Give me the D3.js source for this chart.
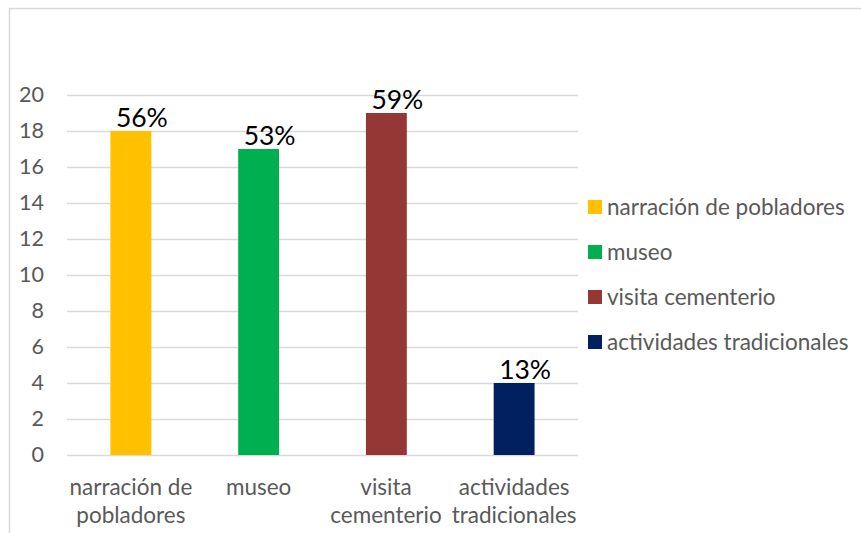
<!DOCTYPE html>
<html>
<head>
<meta charset="utf-8">
<script src="https://cdn.jsdelivr.net/npm/d3@7"></script>
<style>
  html, body { margin: 0; padding: 0; background: #fff; }
  svg { display: block; }
</style>
</head>
<body>
<svg id="chart" width="861" height="533"></svg>
<script>
const categories = ["narración de pobladores", "museo", "visita cementerio", "actividades tradicionales"];
const axisLabels = [["narración de", "pobladores"], ["museo"], ["visita", "cementerio"], ["actividades", "tradicionales"]];
const values = [18, 17, 19, 4];
const percentLabels = ["56%", "53%", "59%", "13%"];
const colors = ["#FFC000", "#00B050", "#953735", "#002060"];
const yTicks = [0, 2, 4, 6, 8, 10, 12, 14, 16, 18, 20];

const FONT = "Lato, 'Open Sans', sans-serif";
const svg = d3.select("#chart");

// chart frame
svg.append("rect")
  .attr("x", 9.5).attr("y", 8.5)
  .attr("width", 900).attr("height", 600)
  .attr("fill", "#fff").attr("stroke", "#d9d9d9").attr("stroke-width", 1.5);

const plot = { left: 67, right: 578, top: 95, bottom: 455 };

const x = d3.scaleBand().domain(categories).range([plot.left, plot.right]).paddingInner(0.68).paddingOuter(0.34);
const y = d3.scaleLinear().domain([0, 20]).range([plot.bottom, plot.top]);

// gridlines
const yAxis = d3.axisLeft(y).tickValues(yTicks).tickSize(-(plot.right - plot.left)).tickPadding(23).tickFormat(d3.format("d"));
const gy = svg.append("g").attr("transform", `translate(${plot.left},0)`).call(yAxis);
gy.select(".domain").remove();
gy.selectAll(".tick line").attr("stroke", "#d9d9d9").attr("stroke-width", 1.5);
gy.selectAll(".tick text").attr("fill", "#595959").style("font-family", FONT).style("font-size", "21.5px");

// bars
svg.append("g").selectAll("rect").data(categories).join("rect")
  .attr("x", d => x(d))
  .attr("y", (d, i) => y(values[i]))
  .attr("width", x.bandwidth())
  .attr("height", (d, i) => y(0) - y(values[i]))
  .attr("fill", (d, i) => colors[i]);

// data labels
svg.append("g").selectAll("text").data(categories).join("text")
  .attr("x", d => x(d) + x.bandwidth() / 2 + 11)
  .attr("y", (d, i) => y(values[i]) - 4)
  .attr("text-anchor", "middle")
  .attr("fill", "#000")
  .style("font-family", FONT).style("font-size", "26.5px")
  .text((d, i) => percentLabels[i]);

// x axis labels
const xl = svg.append("g");
const labelNodes = [];
categories.forEach((c, i) => {
  const t = xl.append("text")
    .attr("x", x(c) + x.bandwidth() / 2)
    .attr("y", 495)
    .attr("text-anchor", "middle")
    .attr("fill", "#595959")
    .style("font-family", FONT).style("font-size", "22.5px");
  axisLabels[i].forEach((line, j) => {
    t.append("tspan").attr("x", x(c) + x.bandwidth() / 2).attr("dy", j === 0 ? 0 : 28).text(line);
  });
  labelNodes.push(t);
});
// avoid overlap: shift a label left when it collides with the next one
for (let i = labelNodes.length - 2; i >= 0; i--) {
  const a = labelNodes[i].node().getBBox();
  const b = labelNodes[i + 1].node().getBBox();
  const overlap = a.x + a.width + 10 - b.x;
  if (overlap > 0) labelNodes[i].attr("transform", `translate(${-overlap},0)`);
}

// legend
const lg = svg.append("g").attr("transform", "translate(588,0)");
categories.forEach((c, i) => {
  const cy = 207 + i * 45;
  lg.append("rect").attr("x", 0).attr("y", cy - 7).attr("width", 14).attr("height", 14).attr("fill", colors[i]);
  lg.append("text").attr("x", 19).attr("y", cy).attr("dy", "0.35em")
    .attr("fill", "#595959").style("font-family", FONT).style("font-size", "22.5px").text(c);
});
</script>
</body>
</html>
